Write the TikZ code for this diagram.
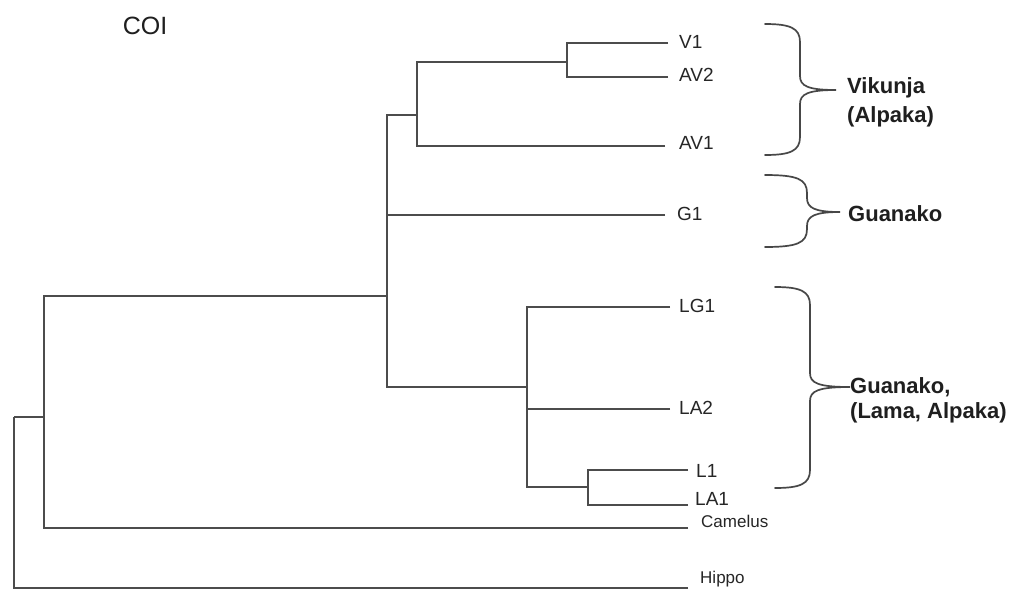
\documentclass[tikz,border=0pt]{standalone}
\usepackage{fontspec}
\setmainfont{Liberation Sans}

% curly brace: left x, spine x, tip x, top y, tip y, bottom y
\newcommand\labelbrace[6]{%
  \draw[bracestyle] (#1,#4) .. controls ({#2-10},#4) and (#2,{#4+4}) .. (#2,{#4+18})
    -- (#2,{#5-14}) .. controls (#2,{#5-4}) and ({#2+8},#5) .. (#3,#5)
    .. controls ({#2+8},#5) and (#2,{#5+4}) .. (#2,{#5+14})
    -- (#2,{#6-18}) .. controls (#2,{#6-4}) and ({#2-10},#6) .. (#1,#6);}

\begin{document}
\begin{tikzpicture}[x=1pt,y=-1pt,
  branch/.style={line width=2pt,draw=black!70,line join=miter},
  bracestyle/.style={line width=1.7pt,draw=black!72,line cap=round},
  leaf/.style={font=\fontsize{19}{22}\selectfont,text=black!85,anchor=west,
    inner sep=0pt,text height=13.6pt,text depth=0pt},
  outleaf/.style={leaf,font=\fontsize{17}{20}\selectfont,text height=12.2pt},
  group/.style={font=\fontsize{22}{26}\selectfont\bfseries,text=black!88,
    anchor=base west,inner sep=0pt},
  title/.style={font=\fontsize{25}{28}\selectfont,text=black!88,inner sep=0pt}]

\useasboundingbox[fill=white] (0,0) rectangle (1018,590);

\node[title] (coi) at (145,26) {COI};

% branch points
\coordinate (root) at (14,417);
\coordinate (n1) at (44,417);
\coordinate (n2) at (387,296);
\coordinate (n3) at (417,115);
\coordinate (n4) at (567,62);
\coordinate (n5) at (527,387);
\coordinate (n6) at (588,487);

% tip ends
\coordinate (tv1) at (668,43);
\coordinate (tav2) at (668,77);
\coordinate (tav1) at (665,146);
\coordinate (tg1) at (665,215);
\coordinate (tlg1) at (670,307);
\coordinate (tla2) at (670,409);
\coordinate (tl1) at (688,470);
\coordinate (tla1) at (688,505);
\coordinate (tcam) at (688,528);
\coordinate (thip) at (688,588);

% tip labels
\node[leaf] (v1) at (679,42) {V1};
\node[leaf] (av2) at (679,75) {AV2};
\node[leaf] (av1) at (679,143) {AV1};
\node[leaf] (g1) at (677,214) {G1};
\node[leaf] (lg1) at (679,306) {LG1};
\node[leaf] (la2) at (679,408) {LA2};
\node[leaf] (l1) at (696,471) {L1};
\node[leaf] (la1) at (695,499) {LA1};
\node[outleaf] (cam) at (701,521) {Camelus};
\node[outleaf] (hip) at (700,577) {Hippo};

% tree
\draw[branch] (n1) -| (root);
\draw[branch] (thip) -| (root);
\draw[branch] (n2) -| (n1);
\draw[branch] (tcam) -| (n1);
\draw[branch] (n3) -| (n2);
\draw[branch] (tg1) -| (n2);
\draw[branch] (n5) -| (n2);
\draw[branch] (n4) -| (n3);
\draw[branch] (tav1) -| (n3);
\draw[branch] (tv1) -| (n4);
\draw[branch] (tav2) -| (n4);
\draw[branch] (tlg1) -| (n5);
\draw[branch] (tla2) -| (n5);
\draw[branch] (n6) -| (n5);
\draw[branch] (tl1) -| (n6);
\draw[branch] (tla1) -| (n6);

% group braces and names
\labelbrace{765}{800}{836}{24}{90}{155}
\labelbrace{765}{807}{840}{175}{212}{247}
\labelbrace{775}{810}{850}{287}{387}{488}

\node[group] (vik) at (847,93) {Vikunja};
\node[group] (vikb) at (847,122) {(Alpaka)};
\node[group] (gua) at (848,221) {Guanako};
\node[group] (gua2) at (850,393) {Guanako,};
\node[group] (lama) at (850,418) {(Lama, Alpaka)};
\end{tikzpicture}
\end{document}
